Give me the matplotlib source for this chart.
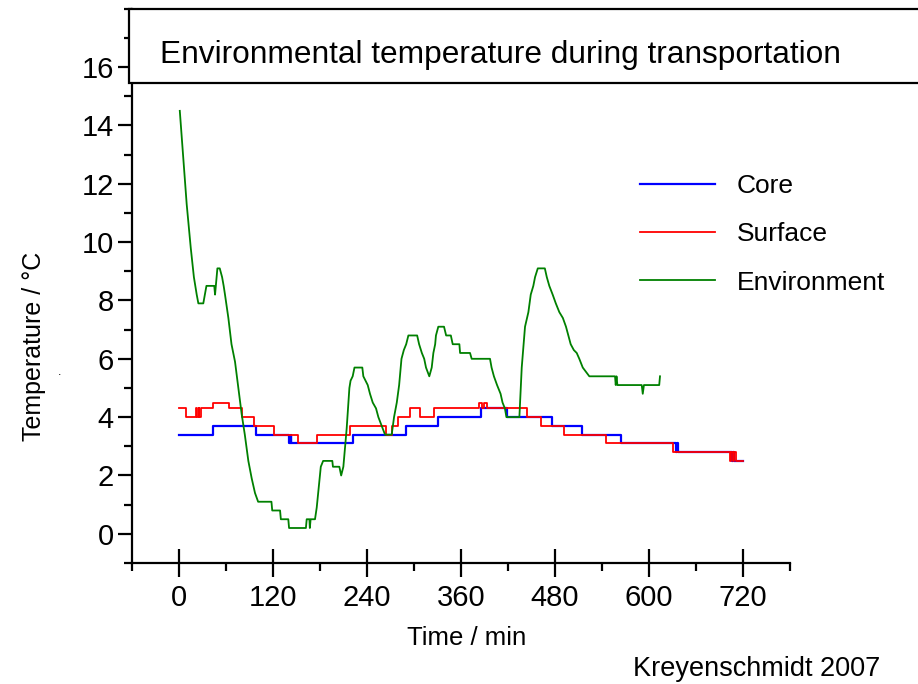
import matplotlib
matplotlib.use("Agg")
import matplotlib.pyplot as plt
from matplotlib.patches import Rectangle
from matplotlib.ticker import MultipleLocator, FixedLocator

plt.rcParams['font.family'] = ['Liberation Sans', 'DejaVu Sans']

# Core temperature, step changes (time in min, temperature in degC)
core_t = [0, 43, 98, 141, 142.5, 143.5, 222, 290, 331, 385.5, 419, 476, 514.5,
          564, 634, 635.5, 637.5, 706, 707.5, 709, 720]
core_v = [3.4, 3.7, 3.4, 3.1, 3.4, 3.1, 3.4, 3.7, 4.0, 4.3, 4.0, 3.7, 3.4,
          3.1, 2.8, 3.1, 2.8, 2.5, 2.8, 2.5, 2.5]

# Surface temperature, step changes
surf_t = [0, 8.5, 22, 23, 25, 26, 27.5, 43, 64, 81, 96, 121, 152, 176, 218,
          264, 271.5, 280, 295, 308, 325.5, 383, 387, 389, 393, 444, 462, 492,
          545, 631, 703, 705, 707, 709, 711, 720]
surf_v = [4.3, 4.0, 4.3, 4.0, 4.3, 4.0, 4.3, 4.5, 4.3, 4.0, 3.7, 3.4, 3.1, 3.4, 3.7,
          3.4, 3.7, 4.0, 4.3, 4.0, 4.3, 4.5, 4.3, 4.5, 4.3, 4.0, 3.7, 3.4,
          3.1, 2.8, 2.5, 2.8, 2.5, 2.8, 2.5, 2.5]

# Environment temperature
env_t = [1, 9.8, 15, 19, 22.6, 24.7, 31, 33, 35, 45, 46, 47, 49, 52, 55, 57,
         58.7, 63, 67, 71.5, 75.7, 80, 84, 88.5, 92.8, 97, 101, 118, 119, 129,
         130, 139.5, 140.5, 162, 163, 166.5, 167, 168, 173.6, 175.8, 178.7, 181,
         184, 195.7, 196.5, 204.7, 207, 209.8, 212, 214, 217.5, 219, 221.7, 224,
         234, 235.3, 240.9, 243.8, 247.3, 251.5, 254.5, 258.8, 263, 271.5, 274.5,
         278, 281, 284, 287, 290, 292.8, 304, 306.5, 310, 313, 315.3, 319.5,
         322.6, 324.7, 327, 328, 331, 338.3, 341, 347, 349.4, 357.9, 358.8,
         371.5, 372.5, 373.6, 397, 399, 402, 406, 410.5, 413, 416, 418, 434.5,
         437.5, 441.7, 446, 449, 452.3, 454.5, 458, 467, 469.5, 472.7, 477, 481,
         485.5, 490, 494, 497, 500, 504, 507.7, 511, 515.4, 523.8, 556.6, 557.5,
         558.5, 559.6, 590.7, 592, 593.5, 613, 614]
env_v = [14.5, 11.3, 9.8, 8.8, 8.2, 7.9, 7.9, 8.2, 8.5, 8.5, 8.2, 8.5, 9.1, 9.1, 8.8, 8.5,
         8.2, 7.4, 6.5, 5.9, 5.0, 4.1, 3.4, 2.5, 1.9, 1.4, 1.1, 1.1, 0.8, 0.8,
         0.5, 0.5, 0.2, 0.2, 0.5, 0.5, 0.2, 0.5, 0.5, 0.9, 1.7, 2.3,
         2.5, 2.5, 2.3, 2.3, 2.0, 2.3, 3.0, 3.6, 5.0, 5.25, 5.4, 5.7,
         5.7, 5.4, 5.1, 4.8, 4.5, 4.3, 4.0, 3.7, 3.4, 3.4, 4.0,
         4.5, 5.1, 6.0, 6.3, 6.5, 6.8, 6.8, 6.5, 6.2, 6.0, 5.7, 5.4,
         5.7, 6.2, 6.5, 6.8, 7.1, 7.1, 6.8, 6.8, 6.5, 6.5, 6.2,
         6.2, 6.1, 6.0, 6.0, 5.7, 5.4, 5.1, 4.8, 4.5, 4.3, 4.0, 4.0,
         5.7, 7.1, 7.6, 8.2, 8.5, 8.8, 9.1, 9.1, 8.8, 8.5, 8.2, 7.9,
         7.6, 7.4, 7.1, 6.8, 6.5, 6.3, 6.2, 6.0, 5.7, 5.4, 5.4, 5.1,
         5.4, 5.1, 5.1, 4.8, 5.1, 5.1, 5.4]

fig = plt.figure(figsize=(9.18, 6.84), dpi=100)
ax = fig.add_axes([0.1438, 0.1769, 0.7168, 0.8103])

ax.plot(core_t, core_v, drawstyle='steps-post', color='#0000ff', lw=1.6, label='Core')
ax.plot(surf_t, surf_v, drawstyle='steps-post', color='#ff0000', lw=1.3, label='Surface')
ax.plot(env_t, env_v, color='#008000', lw=1.3, label='Environment')

ax.set_xlim(-60, 780)
ax.set_ylim(-1, 18)
ax.set_xticks(range(0, 721, 120))
ax.xaxis.set_minor_locator(FixedLocator(range(-60, 781, 120)))
ax.set_yticks(range(0, 17, 2))
ax.yaxis.set_minor_locator(MultipleLocator(1))

for s in ['top', 'right']:
    ax.spines[s].set_visible(False)
for s in ['left', 'bottom']:
    ax.spines[s].set_linewidth(1.6)

ax.tick_params(axis='x', which='major', direction='inout', length=20, width=1.6,
               labelsize=21, pad=5)
ax.tick_params(axis='x', which='minor', direction='out', length=6, width=1.6)
ax.tick_params(axis='y', which='major', direction='out', length=10, width=1.6,
               labelsize=21, pad=3)
ax.tick_params(axis='y', which='minor', direction='out', length=6, width=1.6)

ax.set_xlabel('Time / min', fontsize=18.5)
ax.xaxis.set_label_coords(0.508, -0.114)
ax.set_ylabel('Temperature / \u00b0C', fontsize=18)
ax.yaxis.set_label_coords(-0.13, 0.39)

ax.legend(loc='upper left', bbox_to_anchor=(640 / 918, 1 - 174 / 684),
          bbox_transform=fig.transFigure, frameon=False, fontsize=19,
          handlelength=2.84, handletextpad=0.83, labelspacing=0.92,
          borderpad=0, borderaxespad=0)

# title box on top of the axes
box = Rectangle((129 / 918, 1 - 83 / 684), 1.0, 74 / 684, transform=fig.transFigure,
                facecolor='white', edgecolor='black', lw=1.6, zorder=10)
fig.add_artist(box)
fig.text(160 / 918, 1 - 55 / 684, 'Environmental temperature during transportation',
         fontsize=22.8, ha='left', va='center', zorder=11)

fig.text(60 / 918, 1 - 372 / 684, '.', fontsize=9, ha='center', va='center')
fig.text(757 / 918, 1 - 669 / 684, 'Kreyenschmidt 2007', fontsize=19.5,
         ha='center', va='center')

fig.savefig('out.png', dpi=100)
